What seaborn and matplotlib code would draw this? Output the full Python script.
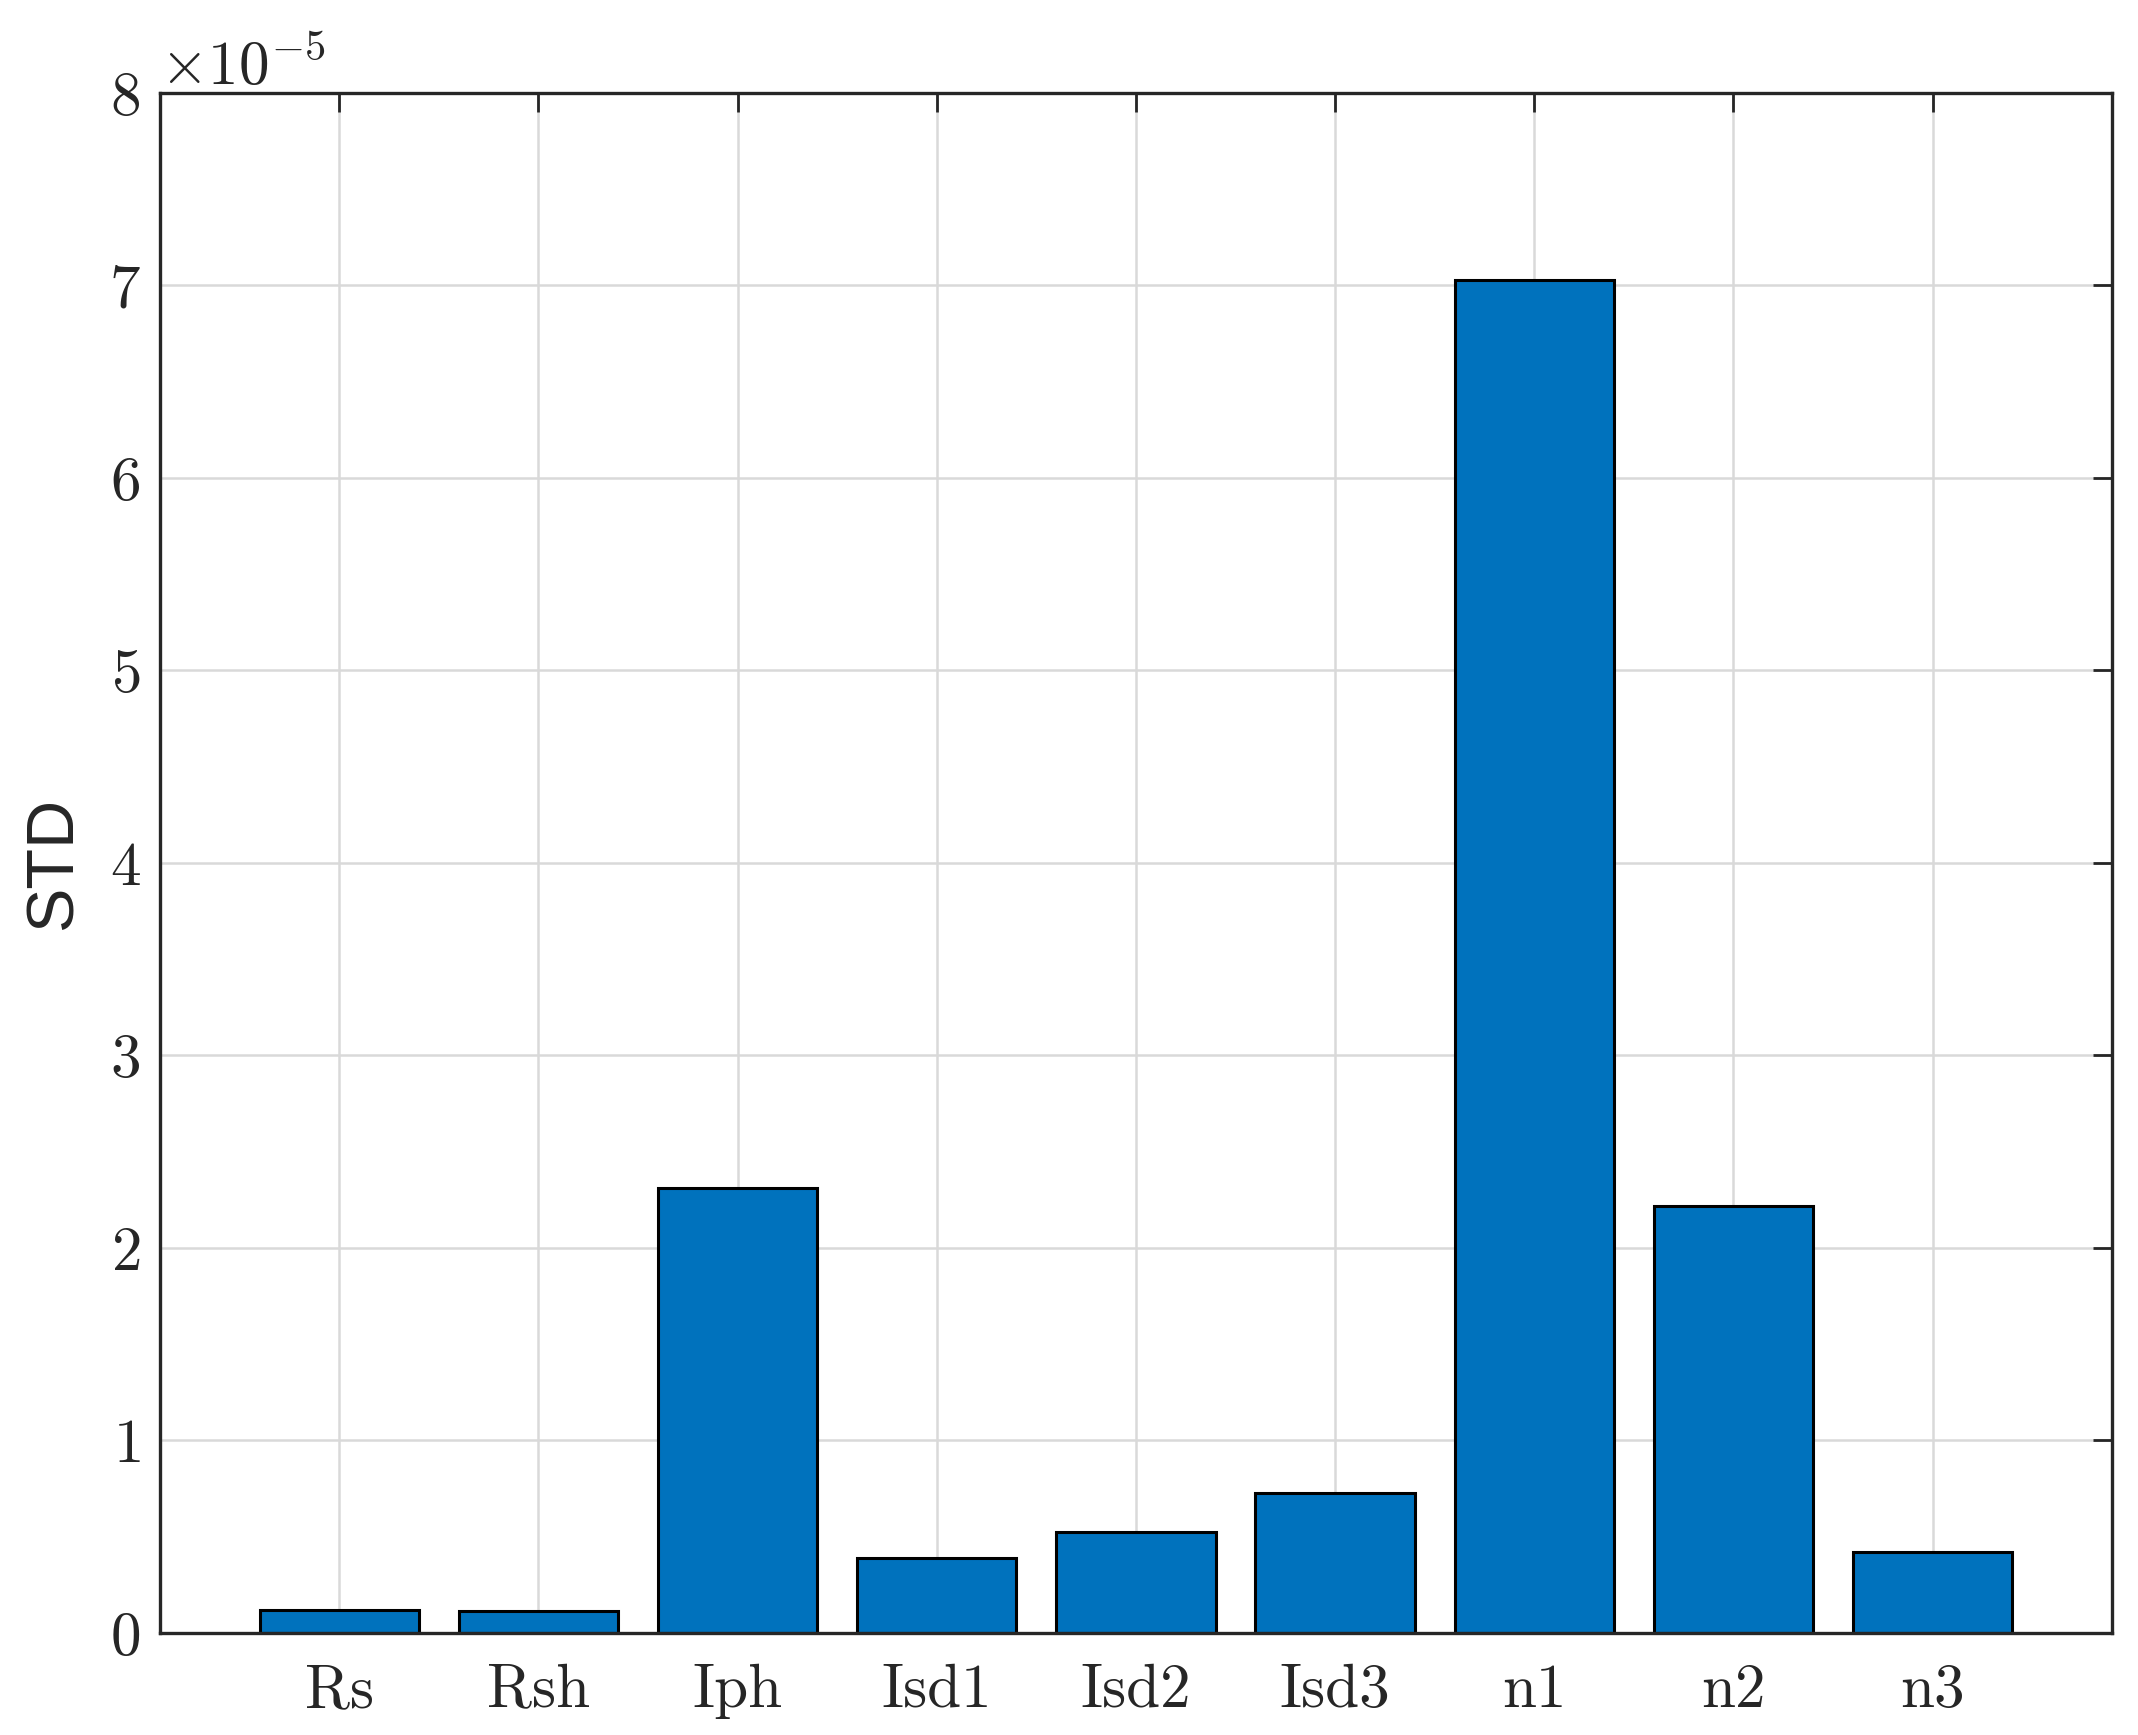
import numpy as np
import pandas as pd
import matplotlib
matplotlib.use("Agg")
import matplotlib.pyplot as plt
import seaborn as sns

# parameter names and their STD values (x 1e-5)
params = ["Rs", "Rsh", "Iph", "Isd1", "Isd2", "Isd3", "n1", "n2", "n3"]
std_e5 = [0.12, 0.115, 2.31, 0.39, 0.525, 0.725, 7.03, 2.22, 0.42]
yticks_e5 = [0, 1, 2, 3, 4, 5, 6, 7, 8]

df = pd.DataFrame({"param": params, "std": np.array(std_e5) * 1e-5})

sns.set_style("white")
plt.rcParams["font.family"] = "serif"
plt.rcParams["font.serif"] = ["cmr10"]
plt.rcParams["mathtext.fontset"] = "cm"
plt.rcParams["axes.formatter.use_mathtext"] = True
plt.rcParams["axes.unicode_minus"] = False

fig = plt.figure(figsize=(10.69, 8.675), dpi=200)
ax = fig.add_axes([0.0748, 0.0588, 0.9130, 0.8876])

sns.barplot(data=df, x="param", y="std", color="#0072BD", saturation=1,
            edgecolor="black", linewidth=1.1, width=0.8, ax=ax, zorder=2)

ax.set_xlim(-0.9, 8.9)
ax.set_ylim(0, 8e-5)
ax.set_yticks(np.array(yticks_e5) * 1e-5)

# matlab style grid under the bars
gc = "#d9d9d9"
for y in ax.get_yticks():
    ax.axhline(y, color=gc, lw=0.9, zorder=0)
for x in ax.get_xticks():
    ax.axvline(x, color=gc, lw=0.9, zorder=0)

ax.tick_params(direction="in", length=7, width=1.0, color="#262626",
               top=True, right=True, labelsize=22)
ax.tick_params(axis="x", pad=11)
ax.tick_params(axis="y", pad=7)
for s in ax.spines.values():
    s.set_color("#262626")
    s.set_linewidth(1.2)
    s.set_zorder(5)

ax.yaxis.get_offset_text().set_fontsize(22)
ax.set_xlabel("")
ax.set_ylabel("STD", fontsize=24, family="Liberation Sans")
ax.yaxis.set_label_coords(-0.038, 0.5)

fig.savefig("out.png", dpi=200)
